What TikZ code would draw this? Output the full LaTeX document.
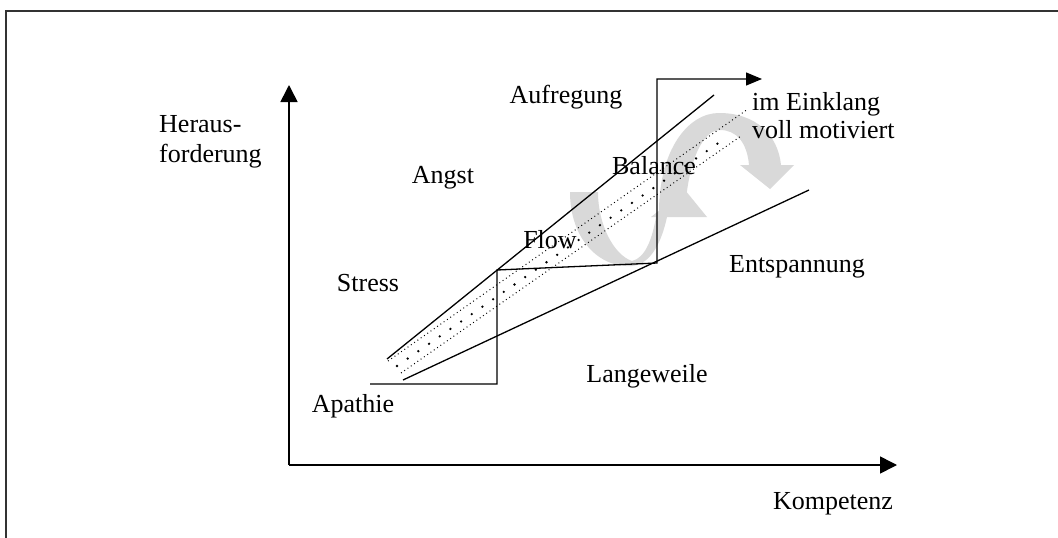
\documentclass[tikz,border=0pt]{standalone}
\usepackage{fontspec}
\setmainfont{Liberation Serif}
\usetikzlibrary{arrows.meta}
\begin{document}
\begin{tikzpicture}[x=1pt,y=-1pt,
  lbl/.style={inner sep=0pt, font=\fontsize{26}{28}\selectfont},
  axis/.style={line width=1.6pt, -{Triangle[length=17pt,width=17pt]}},
  thin/.style={line width=1.3pt},
  fine/.style={line width=1pt, dash pattern=on 0.9pt off 3.1pt},
  bigdots/.style={line width=2.6pt, line cap=round, dash pattern=on 0pt off 13pt},
  cyc/.style={fill=black!15, draw=none}]
\useasboundingbox (0,0) rectangle (1058,538);
% frame
\draw[line width=2pt, black!80] (6,538) -- (6,11) -- (1058,11);
% gray cycle arrows
\path[cyc] (570,192) .. controls (570,238) and (598,268) .. (632,266)
  .. controls (652,264) and (662,240) .. (667,217)
  -- (707,217) -- (685,190) -- (651,217) -- (656,217)
  .. controls (652,240) and (645,258) .. (632,261)
  .. controls (614,255) and (598,225) .. (598,192) -- cycle;
\path[cyc] (659,212) .. controls (659,150) and (688,113) .. (719,113)
  .. controls (756,113) and (778,135) .. (781,165)
  -- (794,165) -- (770,189) -- (740,165) -- (749,165)
  .. controls (747,142) and (736,130) .. (720,130)
  .. controls (703,130) and (688,160) .. (685,212) -- cycle;
% coordinates
\coordinate (o) at (289,465);
\coordinate (ytop) at (289,85);
\coordinate (xend) at (897,465);
\coordinate (u1) at (387,359);
\coordinate (u2) at (714,95);
\coordinate (l1) at (403,380);
\coordinate (l2) at (809,190);
\coordinate (du1) at (388,361);
\coordinate (du2) at (748,109);
\coordinate (dl1) at (401,373);
\coordinate (dl2) at (741,136);
\coordinate (dc1) at (397,366);
\coordinate (dc2) at (727,137);
\coordinate (s0) at (370,384);
\coordinate (s1) at (497,384);
\coordinate (s2) at (497,270);
\coordinate (s3) at (657,263);
\coordinate (s4) at (657,79);
\coordinate (s5) at (762,79);
% axes
\draw[axis] (o) -- (ytop);
\draw[axis] (o) -- (xend);
% corridor lines
\draw[thin] (u1) -- (u2);
\draw[thin] (l1) -- (l2);
\draw[fine] (du1) -- (du2);
\draw[fine] (dl1) -- (dl2);
\draw[bigdots] (dc1) -- (dc2);
% staircase
\draw[thin, -{Triangle[length=16pt,width=13pt]}] (s0) -- (s1) -- (s2) -- (s3) -- (s4) -- (s5);
% labels
\node[lbl, anchor=west, align=left, font=\fontsize{26}{30}\selectfont] (her) at (159,142) {Heraus-\\forderung};
\node[lbl] (auf) at (566,97) {Aufregung};
\node[lbl, anchor=west, align=left] (ein) at (752,116) {im Einklang\\voll motiviert};
\node[lbl] (ang) at (443,178) {Angst};
\node[lbl] (bal) at (654,166) {Balance};
\node[lbl] (flo) at (550,240) {Flow};
\node[lbl] (str) at (368,283) {Stress};
\node[lbl] (ent) at (797,267) {Entspannung};
\node[lbl] (lan) at (647,376) {Langeweile};
\node[lbl] (apa) at (353,406) {Apathie};
\node[lbl] (kom) at (833,504) {Kompetenz};
\end{tikzpicture}
\end{document}
